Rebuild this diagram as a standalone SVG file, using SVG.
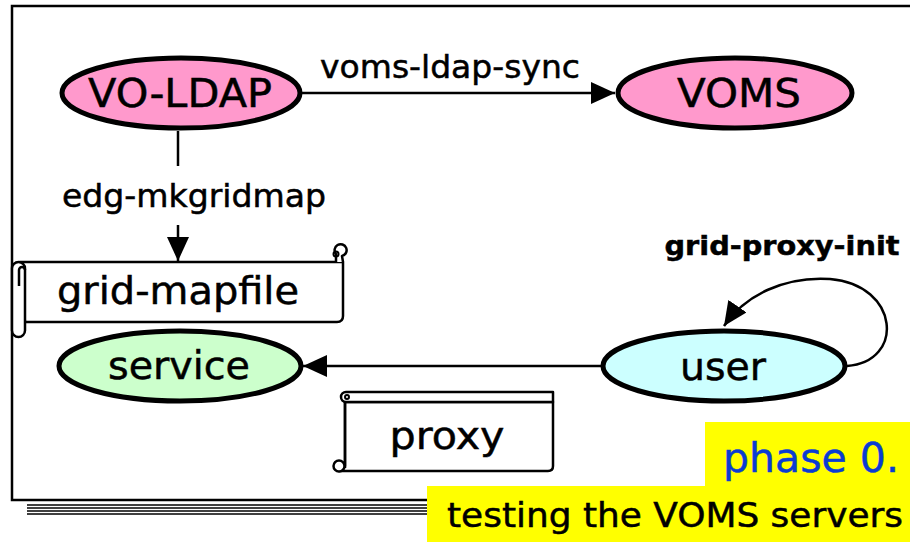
<svg xmlns="http://www.w3.org/2000/svg" width="910" height="542" viewBox="0 0 910 542">
<defs>
<style>
.t{font-family:"DejaVu Sans","Open Sans",sans-serif;fill:#000;stroke:#000;stroke-width:0.5;}
.node{stroke:#000;stroke-width:5;}
.ln{stroke:#000;stroke-width:2.5;fill:none;}
.sc{stroke:#000;stroke-width:2.5;fill:#fff;stroke-linejoin:round;}
</style>
<marker id="ahb" viewBox="0 0 24 22" refX="24" refY="11" markerWidth="24" markerHeight="22" markerUnits="userSpaceOnUse" orient="auto">
<path d="M0,0 L24,11 L0,22 z" fill="#000"/>
</marker>
</defs>
<rect width="910" height="542" fill="#fff"/>
<g id="frame">
<rect x="12" y="6" width="900" height="494" fill="none" stroke="#000" stroke-width="2.5"/>
<g stroke="#000" stroke-width="1.3">
<line x1="27" y1="505" x2="428" y2="505"/>
<line x1="27" y1="508" x2="428" y2="508"/>
<line x1="27" y1="511" x2="428" y2="511"/>
<line x1="27" y1="514" x2="428" y2="514"/>
</g>
</g>
<g id="connectors">
<line class="ln" x1="302" y1="93" x2="615" y2="93" marker-end="url(#ahb)"/>
<text class="t" x="450" y="78" font-size="32" text-anchor="middle" textLength="260" lengthAdjust="spacingAndGlyphs">voms-ldap-sync</text>
<line class="ln" x1="178" y1="131" x2="178" y2="166"/>
<text class="t" x="194" y="207" font-size="32" text-anchor="middle" textLength="264" lengthAdjust="spacingAndGlyphs">edg-mkgridmap</text>
<line class="ln" x1="178" y1="225" x2="178" y2="261" marker-end="url(#ahb)"/>
<line class="ln" x1="602" y1="366" x2="303" y2="366" marker-end="url(#ahb)"/>
<path class="ln" d="M847,366 C905,362 900,285 830,279 C785,276 745,295 724,326" marker-end="url(#ahb)"/>
<text class="t" x="782" y="255" font-size="27" font-weight="bold" text-anchor="middle" textLength="235" lengthAdjust="spacingAndGlyphs">grid-proxy-init</text>
</g>
<g id="vo-ldap">
<ellipse class="node" cx="181" cy="93" rx="119" ry="35" fill="#ff99cc"/>
<text class="t" x="180" y="107" font-size="39" text-anchor="middle" textLength="184" lengthAdjust="spacingAndGlyphs">VO-LDAP</text>
</g>
<g id="voms">
<ellipse class="node" cx="735" cy="93" rx="117" ry="35" fill="#ff99cc"/>
<text class="t" x="739" y="107" font-size="39" text-anchor="middle" textLength="124" lengthAdjust="spacingAndGlyphs">VOMS</text>
</g>
<g id="grid-mapfile">
<path class="sc" d="M20,262 L343,262 L343,316 Q343,322 337,322 L25,322 Z"/>
<path class="sc" d="M336,262 L336,254 A6,6 0 1 1 342,256 L343,262"/>
<circle cx="336" cy="254" r="2.5" fill="none" stroke="#000" stroke-width="2"/>
<rect class="sc" x="12" y="262" width="13" height="75" rx="6.5"/>
<path class="ln" d="M19,286 L19,270 A3,3 0 0 1 25,270"/>
<text class="t" x="178" y="304" font-size="37" text-anchor="middle" textLength="242" lengthAdjust="spacingAndGlyphs">grid-mapfile</text>
</g>
<g id="service">
<ellipse class="node" cx="180" cy="366" rx="121" ry="35" fill="#ccffcc"/>
<text class="t" x="179" y="379" font-size="39" text-anchor="middle" textLength="142" lengthAdjust="spacingAndGlyphs">service</text>
</g>
<g id="user">
<ellipse class="node" cx="724" cy="366" rx="121" ry="35" fill="#ccffff"/>
<text class="t" x="723" y="380" font-size="39" text-anchor="middle" textLength="86" lengthAdjust="spacingAndGlyphs">user</text>
</g>
<g id="proxy">
<path class="sc" d="M345,402 L553,402 L553,466 Q553,471 548,471 L339,471 L345,466 Z"/>
<path class="sc" d="M346,392 L553,392 L553,402 L346,402 A5,5 0 0 1 346,392 Z"/>
<path class="ln" d="M345,402 L345,468"/>
<circle cx="347" cy="397" r="2" fill="none" stroke="#000" stroke-width="2"/>
<circle cx="339" cy="466" r="5.5" fill="#fff" stroke="#000" stroke-width="2.5"/>
<text class="t" x="447" y="449" font-size="37" text-anchor="middle" textLength="115" lengthAdjust="spacingAndGlyphs">proxy</text>
</g>
<g id="phase">
<rect x="705" y="422" width="205" height="64" fill="#ffff00"/>
<rect x="427" y="486" width="483" height="56" fill="#ffff00"/>
<text x="811" y="472" font-size="41" font-family="DejaVu Sans, sans-serif" fill="#0a3cd2" stroke="#0a3cd2" stroke-width="0.5" text-anchor="middle">phase 0.</text>
<text class="t" x="675" y="527" font-size="33" text-anchor="middle" textLength="456" lengthAdjust="spacingAndGlyphs">testing the VOMS servers</text>
</g>
</svg>
